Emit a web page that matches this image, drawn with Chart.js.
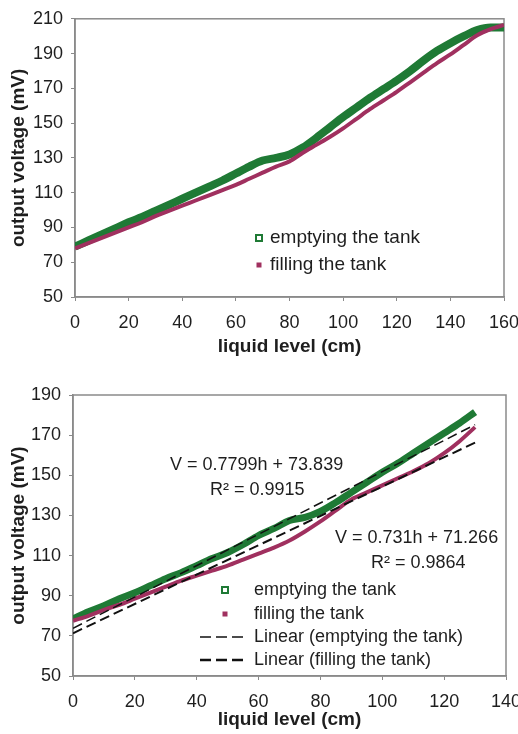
<!DOCTYPE html>
<html lang="en">
<head>
  <meta charset="UTF-8">
  <title>Output voltage vs liquid level</title>
  <script src="https://cdn.jsdelivr.net/npm/chart.js"></script>
  <style>
    html, body { margin: 0; padding: 0; background: #fff; }
    .wrap { position: relative; width: 518px; height: 734px; }
    #topChart { position: absolute; left: 0; top: 0; }
    #bottomChart { position: absolute; left: 0; top: 370px; }
  </style>
</head>
<body>
<div class="wrap">
  <canvas id="topChart" width="518" height="370"></canvas>
  <canvas id="bottomChart" width="518" height="364"></canvas>
</div>

<script>
  // upper chart, full range 0-160 cm
  const levelTop = [0, 5, 10, 15, 20, 25, 30, 35, 40, 45, 50, 55, 60, 65, 70, 75, 80,
                    85, 90, 95, 100, 105, 110, 115, 120, 125, 130, 135, 140, 145, 150, 155, 160];
  const emptyingTop = [79, 82.5, 86, 89.5, 93, 96, 99.5, 103, 106.5, 110, 113.5, 117, 121, 125, 128.5, 130, 132,
                       136, 141.5, 147.5, 153.5, 159, 164.5, 169.5, 174.5, 180, 186, 191.5, 196, 200, 203.5, 205, 205];
  const fillingTop = [78, 81, 84, 87, 90, 93, 96.5, 99.5, 102.5, 105.5, 108.5, 111.5, 114.5, 118, 121.5, 125, 128,
                      133, 137.5, 142, 147, 152.5, 158, 163, 168, 173.5, 179, 184.5, 189.5, 195, 200.5, 204, 206.5];

  // lower chart, 0-130 cm with linear fits
  const levelBottom = [0, 5, 10, 15, 20, 25, 30, 35, 40, 45, 50, 55, 60, 65,
                       70, 75, 80, 85, 90, 95, 100, 105, 110, 115, 120, 125, 130];
  const emptyingBottom = [78.5, 82, 85, 88.5, 91.5, 95, 98.5, 101.5, 105, 108.5, 111.5, 115.5, 120, 123.5,
                          127.5, 129, 132, 136.5, 141.5, 146.5, 151.5, 156, 161, 166, 171, 176, 181.5];
  const fillingBottom = [77.5, 80, 83, 85.5, 88.5, 91.5, 94.5, 97.5, 100, 102.5, 105, 108, 111, 114,
                         117.5, 122, 127, 132.5, 138, 141.5, 145, 148.5, 152, 156, 161, 167, 174];
  const trendLevel = [0, 130];
  const trendEmptying = [73.8, 175.2];
  const trendFilling = [71.3, 166.3];

  const GREEN = '#1f7a35';
  const MAGENTA = '#a0305f';
  const AXIS = '#8a8a8a';
  const INK = '#1e1e1e';

  Chart.defaults.font.family = 'Arial, "Liberation Sans", sans-serif';
  Chart.defaults.color = INK;

  const pts = (xs, ys) => xs.map((x, i) => ({ x: x, y: ys[i] }));

  function scales(xMax, yMin, yMax, yWidth, xHeight, xTitlePad) {
    return {
      x: {
        type: 'linear', min: 0, max: xMax,
        ticks: { stepSize: 20, padding: 11, font: { size: 18 }, color: INK },
        grid: { drawOnChartArea: false, tickLength: 4, color: AXIS },
        border: { color: AXIS, width: 1.5 },
        title: { display: true, text: 'liquid level (cm)', color: INK,
                 font: { size: 19, weight: 'bold' }, padding: { top: 0, bottom: xTitlePad } },
        afterFit: s => { s.height = xHeight; s.paddingRight = 0; s.paddingLeft = 0; }
      },
      y: {
        type: 'linear', min: yMin, max: yMax,
        ticks: { stepSize: 20, padding: 8, font: { size: 18 }, color: INK },
        grid: { drawOnChartArea: false, tickLength: 4, color: AXIS },
        border: { color: AXIS, width: 1.5 },
        title: { display: true, text: 'output voltage (mV)', color: INK,
                 font: { size: 19, weight: 'bold' }, padding: { top: 7, bottom: 0 } },
        afterFit: s => { s.width = yWidth; }
      }
    };
  }

  // box round the plot area
  const frame = {
    id: 'frame',
    beforeDatasetsDraw(chart) {
      const { ctx, chartArea: a } = chart;
      ctx.save();
      ctx.strokeStyle = AXIS;
      ctx.lineWidth = 1.5;
      ctx.strokeRect(a.left, a.top, a.right - a.left, a.bottom - a.top);
      ctx.restore();
    }
  };

  // legend and labels drawn inside the plot
  const notes = {
    id: 'notes',
    afterDraw(chart, args, opts) {
      const ctx = chart.ctx;
      ctx.save();
      ctx.textBaseline = 'middle';
      ctx.fillStyle = INK;
      (opts.items || []).forEach(it => {
        if (it.mark === 'hollow') {
          ctx.strokeStyle = GREEN; ctx.lineWidth = 2;
          ctx.strokeRect(it.mx - 3, it.y - 3, 6, 6);
        } else if (it.mark === 'dot') {
          ctx.fillStyle = MAGENTA;
          ctx.fillRect(it.mx - 2.5, it.y - 2.5, 5, 5);
        } else if (it.mark === 'dash') {
          ctx.strokeStyle = '#111'; ctx.lineWidth = it.lw;
          ctx.setLineDash([11, 5]);
          ctx.beginPath(); ctx.moveTo(it.mx, it.y); ctx.lineTo(it.mx + 48, it.y); ctx.stroke();
          ctx.setLineDash([]);
        }
        ctx.fillStyle = INK;
        ctx.font = (it.size || 18) + 'px Arial, "Liberation Sans", sans-serif';
        ctx.fillText(it.text, it.x, it.y);
      });
      ctx.restore();
    }
  };

  new Chart(document.getElementById('topChart'), {
    type: 'scatter',
    data: {
      datasets: [{
        label: 'filling the tank',
        data: pts(levelTop, fillingTop),
        showLine: true, borderColor: MAGENTA, borderWidth: 4, pointRadius: 0,
        cubicInterpolationMode: 'monotone', order: 1
      }, {
        label: 'emptying the tank',
        data: pts(levelTop, emptyingTop),
        showLine: true, borderColor: GREEN, borderWidth: 8, pointRadius: 0,
        cubicInterpolationMode: 'monotone', order: 2
      }]
    },
    options: {
      responsive: false,
      animation: false,
      layout: { padding: { top: 15, right: 14, left: 0, bottom: 0 } },
      scales: scales(160, 50, 210, 75, 73, 12),
      plugins: {
        legend: { display: false },
        tooltip: { enabled: false },
        notes: { items: [
          { mark: 'hollow', mx: 259, x: 270, y: 238, text: 'emptying the tank', size: 19 },
          { mark: 'dot', mx: 259, x: 270, y: 265, text: 'filling the tank', size: 19 }
        ] }
      }
    },
    plugins: [frame, notes]
  });

  new Chart(document.getElementById('bottomChart'), {
    type: 'scatter',
    data: {
      datasets: [{
        label: 'Linear (emptying the tank)',
        data: pts(trendLevel, trendEmptying),
        showLine: true, borderColor: '#111', borderWidth: 1.5, borderDash: [10, 5],
        pointRadius: 0, order: 0
      }, {
        label: 'Linear (filling the tank)',
        data: pts(trendLevel, trendFilling),
        showLine: true, borderColor: '#111', borderWidth: 2, borderDash: [10, 5],
        pointRadius: 0, order: 0
      }, {
        label: 'filling the tank',
        data: pts(levelBottom, fillingBottom),
        showLine: true, borderColor: MAGENTA, borderWidth: 4, pointRadius: 0,
        cubicInterpolationMode: 'monotone', order: 1
      }, {
        label: 'emptying the tank',
        data: pts(levelBottom, emptyingBottom),
        showLine: true, borderColor: GREEN, borderWidth: 7, pointRadius: 0,
        cubicInterpolationMode: 'monotone', order: 2
      }]
    },
    options: {
      responsive: false,
      animation: false,
      layout: { padding: { top: 25, right: 12, left: 0, bottom: 0 } },
      scales: scales(140, 50, 190, 73, 58, 3),
      plugins: {
        legend: { display: false },
        tooltip: { enabled: false },
        notes: { items: [
          { x: 170, y: 95, text: 'V = 0.7799h + 73.839' },
          { x: 210, y: 120, text: 'R² = 0.9915' },
          { x: 335, y: 168, text: 'V = 0.731h + 71.266' },
          { x: 371, y: 193, text: 'R² = 0.9864' },
          { mark: 'hollow', mx: 225, x: 254, y: 220, text: 'emptying the tank' },
          { mark: 'dot', mx: 225, x: 254, y: 244, text: 'filling the tank' },
          { mark: 'dash', lw: 1.5, mx: 200, x: 254, y: 267, text: 'Linear (emptying the tank)' },
          { mark: 'dash', lw: 2.5, mx: 200, x: 254, y: 290, text: 'Linear (filling the tank)' }
        ] }
      }
    },
    plugins: [frame, notes]
  });
</script>
</body>
</html>
